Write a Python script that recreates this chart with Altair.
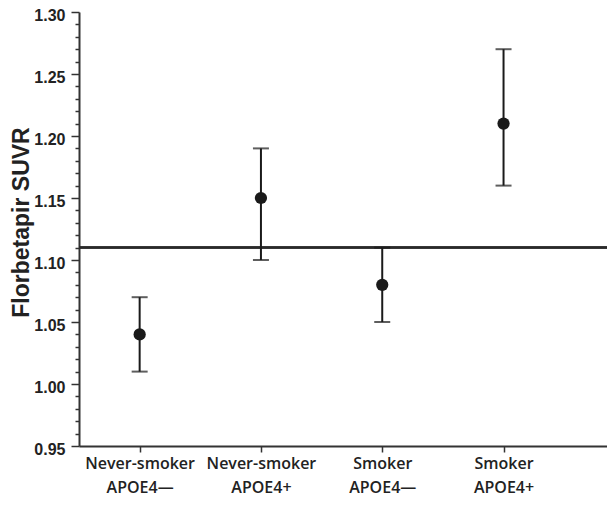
import altair as alt
import pandas as pd

# ---- data ----
positions = [1, 2, 3, 4]
group_line1 = ["Never-smoker", "Never-smoker", "Smoker", "Smoker"]
group_line2 = ["APOE4\u2014", "APOE4+", "APOE4\u2014", "APOE4+"]
mean_suvr = [1.04, 1.15, 1.08, 1.21]
lower_ci = [1.01, 1.10, 1.05, 1.16]
upper_ci = [1.07, 1.19, 1.11, 1.27]
reference_value = 1.11

y_domain = [0.95, 1.30]
x_domain = [0.5, 4.853]
y_tick_values = [round(0.95 + 0.01 * i, 2) for i in range(36)]

df = pd.DataFrame({
    "pos": positions,
    "mean": mean_suvr,
    "lower": lower_ci,
    "upper": upper_ci,
    "ref": [reference_value] * len(positions),
})

# multi-line category labels
parts = []
for p, a, b in zip(positions, group_line1, group_line2):
    parts.append(f"datum.value == {p} ? ['{a}', '{b}'] : ")
x_label_expr = "".join(parts) + "''"

major_test = "abs(datum.value * 20 - round(datum.value * 20)) < 0.001"

INK = "#1a1a1a"

x_axis = alt.Axis(
    values=positions,
    labelExpr=x_label_expr,
    title=None,
    grid=False,
    tickSize=6,
    labelFont="Open Sans",
    labelFontSize=16,
    labelFontWeight=600,
    labelLineHeight=24,
    labelPadding=3,
    labelBaseline="top",
    labelAlign="center",
    labelOverlap=False,
    labelFlush=False,
)
x_scale = alt.Scale(domain=x_domain, nice=False, zero=False)

y_axis = alt.Axis(
    values=y_tick_values,
    title="Florbetapir SUVR",
    grid=False,
    tickSize={"condition": {"test": major_test, "value": 8}, "value": 4},
    labelExpr=f"({major_test}) ? format(datum.value, '.2f') : ''",
    labelFont="Liberation Sans",
    labelFontSize=16,
    labelFontWeight="bold",
    labelPadding=6,
    labelOffset=3,
    labelOverlap=False,
    labelFlush=False,
    titleFont="Liberation Sans",
    titleFontSize=23,
    titleFontWeight="bold",
    titleBaseline="alphabetic",
    titleX=-51,
    titleY=210,
)
y_scale = alt.Scale(domain=y_domain, nice=False, zero=False)

base = alt.Chart(df)

ref_line = base.mark_rule(color="#2a2a2a", strokeWidth=2).encode(
    y=alt.Y("ref:Q", scale=y_scale, axis=y_axis),
)

err = base.mark_rule(color=INK, strokeWidth=2).encode(
    x=alt.X("pos:Q", scale=x_scale, axis=x_axis),
    y=alt.Y("lower:Q", scale=y_scale, axis=y_axis),
    y2="upper:Q",
)

cap_lo = base.mark_tick(color=INK, orient="horizontal", size=16, thickness=2).encode(
    x=alt.X("pos:Q", scale=x_scale, axis=x_axis),
    y=alt.Y("lower:Q", scale=y_scale, axis=y_axis),
)
cap_hi = base.mark_tick(color=INK, orient="horizontal", size=16, thickness=2).encode(
    x=alt.X("pos:Q", scale=x_scale, axis=x_axis),
    y=alt.Y("upper:Q", scale=y_scale, axis=y_axis),
)

points = base.mark_point(filled=True, shape="circle", size=150, opacity=1, color=INK).encode(
    x=alt.X("pos:Q", scale=x_scale, axis=x_axis),
    y=alt.Y("mean:Q", scale=y_scale, axis=y_axis),
)

chart = (
    alt.layer(ref_line, err, cap_lo, cap_hi, points)
    .properties(
        width=528,
        height=434,
        padding={"left": 71, "top": 4, "right": 0, "bottom": 50},
        autosize=alt.AutoSizeParams(type="none"),
    )
    .configure_view(stroke=None)
    .configure_axis(
        domainColor="#333333",
        domainWidth=2,
        tickColor="#333333",
        tickWidth=1.5,
        labelColor="#222222",
        titleColor="#222222",
    )
)

chart.save("out.html", embed_options={"renderer": "svg", "actions": False})
